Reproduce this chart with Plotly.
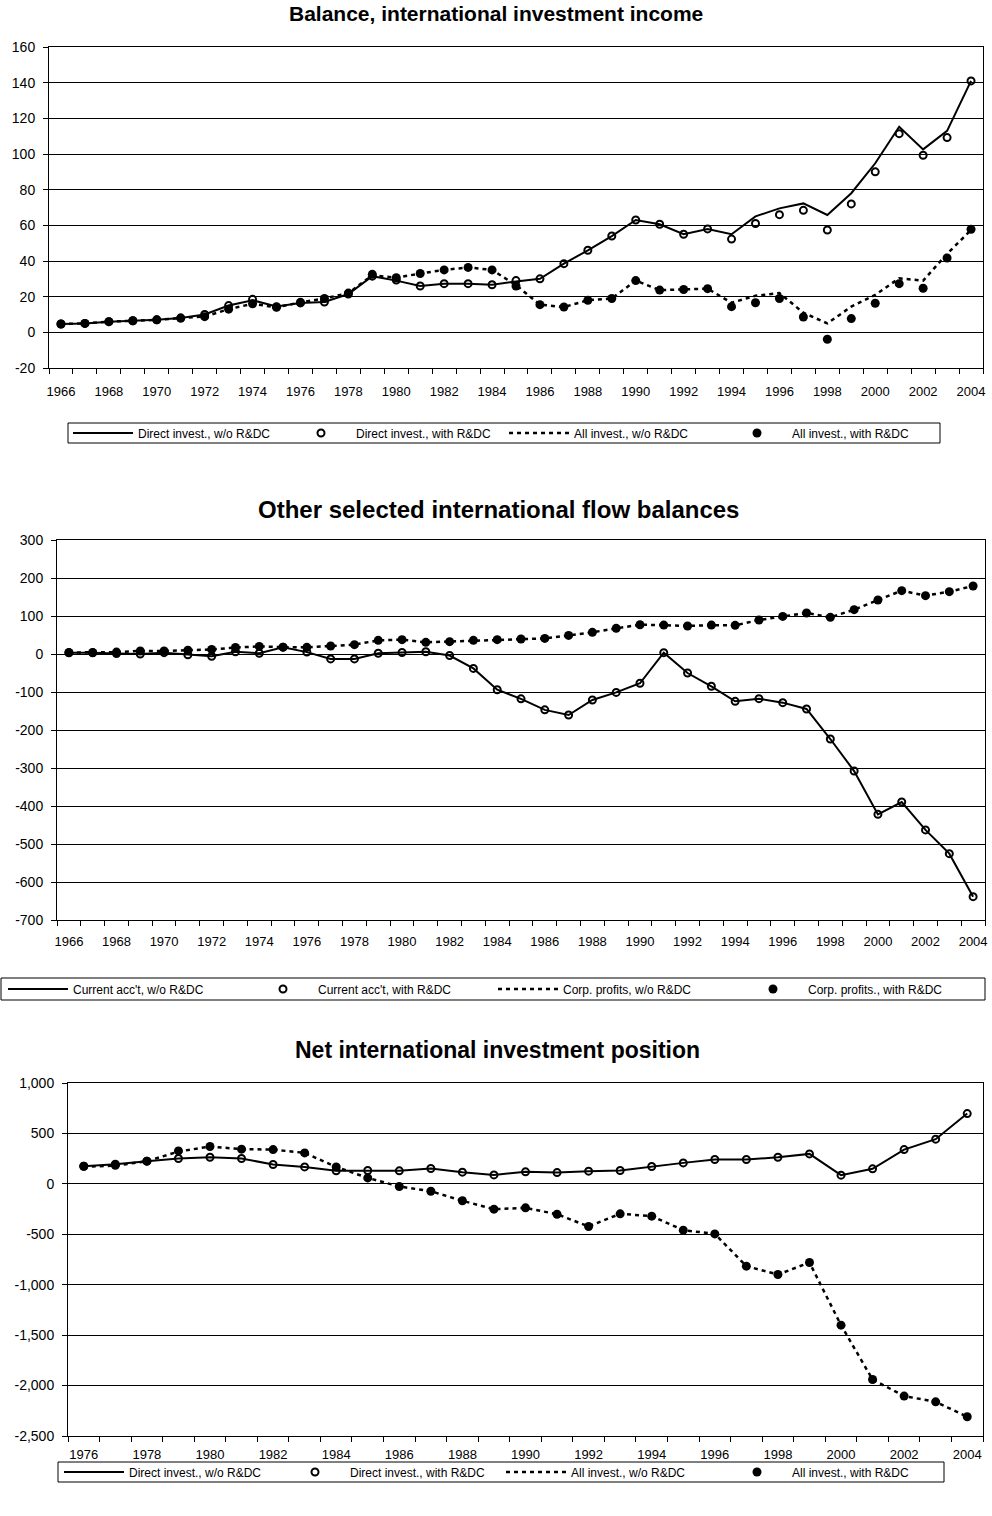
import plotly.graph_objects as go

# ---------------- data ----------------
years_a = [1966, 1967, 1968, 1969, 1970, 1971, 1972, 1973, 1974, 1975,
           1976, 1977, 1978, 1979, 1980, 1981, 1982, 1983, 1984, 1985,
           1986, 1987, 1988, 1989, 1990, 1991, 1992, 1993, 1994, 1995,
           1996, 1997, 1998, 1999, 2000, 2001, 2002, 2003, 2004]
years_b = [1976, 1977, 1978, 1979, 1980, 1981, 1982, 1983, 1984, 1985,
           1986, 1987, 1988, 1989, 1990, 1991, 1992, 1993, 1994, 1995,
           1996, 1997, 1998, 1999, 2000, 2001, 2002, 2003, 2004]
xlabels_a = [1966, 1968, 1970, 1972, 1974, 1976, 1978, 1980, 1982, 1984,
             1986, 1988, 1990, 1992, 1994, 1996, 1998, 2000, 2002, 2004]
xlabels_b = [1976, 1978, 1980, 1982, 1984, 1986, 1988, 1990, 1992, 1994,
             1996, 1998, 2000, 2002, 2004]

ytick1 = [-20, 0, 20, 40, 60, 80, 100, 120, 140, 160]
ytext1 = ["-20", "0", "20", "40", "60", "80", "100", "120", "140", "160"]
ytick2 = [-700, -600, -500, -400, -300, -200, -100, 0, 100, 200, 300]
ytext2 = ["-700", "-600", "-500", "-400", "-300", "-200", "-100", "0", "100", "200", "300"]
ytick3 = [-2500, -2000, -1500, -1000, -500, 0, 500, 1000]
ytext3 = ["-2,500", "-2,000", "-1,500", "-1,000", "-500", "0", "500", "1,000"]

# Panel 1: Balance, international investment income
inc_direct_wo = [4.7, 5, 6, 6.5, 7, 8, 10, 15, 18, 14.5,
                 16.5, 17, 21.5, 31.5, 29, 26, 27.3, 27.3, 26.7, 28.5,
                 30, 38.5, 46, 54, 63, 60.6, 55, 58, 55, 65,
                 69.5, 72.3, 65.8, 78, 94.8, 115.3, 102.6, 113, 141]
inc_direct_with = [4.7, 5, 6, 6.5, 7, 8, 10, 15, 18.5, 14.4,
                   16.5, 17, 21.5, 31.5, 29.3, 26, 27.3, 27.3, 26.7, 29,
                   30, 38.5, 46, 54, 63, 60.6, 55, 58, 52.3, 61,
                   66, 68.4, 57.4, 72, 90, 111.4, 99.3, 109.2, 141]
inc_all_wo = [4.7, 5, 6, 6.5, 7, 8, 8.8, 13, 16, 14,
              16.8, 19, 22, 32, 30.6, 33, 35, 36.4, 35, 26.5,
              15.5, 14.2, 18, 19, 29, 23.7, 24, 24.5, 16.6, 20.5,
              22, 11, 5, 14.4, 21, 30.3, 29, 44, 57.4]
inc_all_with = [4.7, 5, 6, 6.5, 7, 8, 8.8, 13, 16, 14,
                16.8, 19, 22, 32.5, 30.6, 33, 35, 36.4, 35, 26,
                15.5, 14.2, 18, 19, 29, 23.7, 24, 24.5, 14.4, 16.6,
                19, 8.6, -3.9, 7.7, 16.3, 27.3, 24.7, 41.7, 57.8]

# Panel 2: Other selected international flow balances
ca_wo = [3, 3, 1, 0, 3.5, -2, -6, 6, 2, 18,
         5, -13, -13, 2, 4, 6, -4, -38, -94, -118,
         -147, -160.5, -121, -101, -77, 3.5, -50, -85, -124.5, -117.5,
         -128, -144.7, -223.7, -308, -422, -389.5, -463, -525.4, -638.6]
ca_with = [3, 3, 1, 0, 3.5, -2, -6, 6, 2, 18,
           5, -13, -13, 2, 4, 6, -4, -38, -94, -118,
           -147, -160.5, -121, -101, -77, 3.5, -50, -85, -124.5, -117.5,
           -128, -144.7, -223.7, -308, -422, -389.5, -463, -525.4, -638.6]
cp_wo = [4, 4, 5, 8, 8, 10, 12, 17, 20, 18,
         17.5, 21, 24.5, 36, 37.7, 30.7, 32.5, 36, 37.7, 39.5,
         41, 49, 57, 67.5, 77, 76, 73.7, 76, 75.4, 89.5,
         99, 108, 96.5, 116.7, 142, 166.7, 153.5, 164, 179]
cp_with = [4, 4, 5, 8, 8, 10, 12, 17, 20, 18,
           17.5, 21, 24.5, 36, 37.7, 30.7, 32.5, 36, 37.7, 39.5,
           41, 49, 57, 67.5, 77, 76, 73.7, 76, 75.4, 89.5,
           99, 108, 96.5, 116.7, 142, 166.7, 153.5, 164, 179]

# Panel 3: Net international investment position
pos_direct_wo = [175, 195, 225, 251, 264, 251, 192, 168, 129, 132,
                 129, 152, 116, 89, 119, 112, 126, 132, 172, 208,
                 241, 241, 264, 297, 86, 149, 340, 443, 697]
pos_direct_with = [175, 195, 225, 251, 264, 251, 192, 168, 129, 132,
                   129, 152, 116, 89, 119, 112, 126, 132, 172, 208,
                   241, 241, 264, 297, 86, 149, 340, 443, 697]
pos_all_wo = [170, 180, 225, 320, 370, 344, 340, 307, 168, 59,
              -26, -73, -168, -251, -238, -301, -423, -297, -320, -459,
              -496, -816, -899, -780, -1401, -1940, -2104, -2161, -2309]
pos_all_with = [175, 185, 225, 327, 370, 344, 340, 307, 168, 59,
                -26, -73, -168, -251, -238, -301, -423, -297, -320, -459,
                -496, -816, -899, -780, -1401, -1940, -2104, -2161, -2309]

legend_a = ["Direct invest., w/o R&DC", "Direct invest., with R&DC",
            "All invest., w/o R&DC", "All invest., with R&DC"]
legend_b = ["Current acc't, w/o R&DC", "Current acc't, with R&DC",
            "Corp. profits, w/o R&DC", "Corp. profits., with R&DC"]
titles = ["Balance, international investment income",
          "Other selected international flow balances",
          "Net international investment position"]

# ---------------- figure ----------------
W, H = 992, 1516
FONT = "Arial, Liberation Sans, sans-serif"
fig = go.Figure()


def add_group(x, ys, names, xa, ya, leg):
    y1, y2, y3, y4 = ys
    fig.add_trace(go.Scatter(x=x, y=y1, name=names[0], mode="lines",
                             line=dict(color="black", width=2),
                             xaxis=xa, yaxis=ya, legend=leg))
    fig.add_trace(go.Scatter(x=x, y=y2, name=names[1], mode="markers",
                             marker=dict(symbol="circle-open", size=7, color="black",
                                         line=dict(width=2, color="black")),
                             xaxis=xa, yaxis=ya, legend=leg))
    fig.add_trace(go.Scatter(x=x, y=y3, name=names[2], mode="lines",
                             line=dict(color="black", width=2.5, dash="4px,4px"),
                             xaxis=xa, yaxis=ya, legend=leg))
    fig.add_trace(go.Scatter(x=x, y=y4, name=names[3], mode="markers",
                             marker=dict(symbol="circle", size=9, color="black"),
                             xaxis=xa, yaxis=ya, legend=leg))


add_group(years_a, [inc_direct_wo, inc_direct_with, inc_all_wo, inc_all_with],
          legend_a, "x", "y", "legend")
add_group(years_a, [ca_wo, ca_with, cp_wo, cp_with], legend_b, "x2", "y2", "legend2")
add_group(years_b, [pos_direct_wo, pos_direct_with, pos_all_wo, pos_all_with],
          legend_a, "x3", "y3", "legend3")


def px_x(a, b):
    return [a / W, b / W]


def px_y(top, bottom):
    return [1 - bottom / H, 1 - top / H]


def xax(dom, anchor, first, last, labels, gap):
    return dict(domain=dom, anchor=anchor, range=[first - 0.5, last + 0.5],
                tickmode="array", tickvals=labels, ticktext=[str(v) for v in labels],
                ticks="outside", ticklen=gap, tickcolor="rgba(0,0,0,0)",
                showgrid=False, zeroline=False, showline=True, linecolor="black",
                linewidth=1, mirror=True, tickfont=dict(size=13, color="black"),
                minor=dict(ticks="outside", tick0=first - 0.5, dtick=1, ticklen=5,
                           tickcolor="black", tickwidth=1, showgrid=False))


def yax(dom, anchor, rng, vals, texts):
    return dict(domain=dom, anchor=anchor, range=rng, tickmode="array",
                tickvals=vals, ticktext=texts,
                showgrid=True, gridcolor="black", gridwidth=1,
                zeroline=False, ticks="outside", ticklen=5, tickcolor="black",
                showline=True, linecolor="black", linewidth=1, mirror=True,
                tickfont=dict(size=14, color="black"), ticklabelstandoff=5)


fig.update_layout(
    width=W, height=H,
    margin=dict(l=0, r=0, t=0, b=0, pad=0, autoexpand=False),
    paper_bgcolor="white", plot_bgcolor="white",
    font=dict(family=FONT, color="black", size=12),
    showlegend=True,
    xaxis=xax(px_x(49, 983), "y", 1966, 2004, xlabels_a, 11),
    yaxis=yax(px_y(47, 368), "x", [-20, 160], ytick1, ytext1),
    xaxis2=xax(px_x(57, 985), "y2", 1966, 2004, xlabels_a, 9),
    yaxis2=yax(px_y(540, 920), "x2", [-700, 300], ytick2, ytext2),
    xaxis3=xax(px_x(68, 983), "y3", 1976, 2004, xlabels_b, 6),
    yaxis3=yax(px_y(1083, 1436), "x3", [-2500, 1000], ytick3, ytext3),
)

leg_common = dict(orientation="h", xanchor="center", yanchor="middle",
                  borderwidth=0, bgcolor="rgba(0,0,0,0)",
                  font=dict(size=12, family=FONT, color="black"),
                  itemwidth=60, entrywidthmode="pixels", traceorder="normal")
# legend boxes (left, top, right, bottom) in pixels
boxes = [(68, 423, 940, 443), (1, 978, 985, 1000), (58, 1462, 944, 1482)]
fig.update_layout(
    legend=dict(leg_common, x=(boxes[0][0] + boxes[0][2]) / 2 / W,
                y=1 - (boxes[0][1] + boxes[0][3]) / 2 / H, entrywidth=143),
    legend2=dict(leg_common, x=(boxes[1][0] + boxes[1][2]) / 2 / W,
                 y=1 - (boxes[1][1] + boxes[1][3]) / 2 / H, entrywidth=170),
    legend3=dict(leg_common, x=(boxes[2][0] + boxes[2][2]) / 2 / W,
                 y=1 - (boxes[2][1] + boxes[2][3]) / 2 / H, entrywidth=146),
)
for (l, t, r, b) in boxes:
    fig.add_shape(type="rect", xref="paper", yref="paper",
                  x0=l / W, x1=r / W, y0=1 - b / H, y1=1 - t / H,
                  line=dict(color="black", width=1), fillcolor="rgba(0,0,0,0)",
                  layer="below")

title_pos = [(496, 14, 21), (498, 509, 24), (497, 1050, 23)]
for t, (cx, cy, fs) in zip(titles, title_pos):
    fig.add_annotation(text="<b>" + t + "</b>", x=cx / W, y=1 - cy / H,
                       xref="paper", yref="paper", showarrow=False,
                       xanchor="center", yanchor="middle",
                       font=dict(size=fs, family=FONT, color="black"))

fig.write_html("out.html", config={"displayModeBar": False},
               post_script="document.body.style.margin='0px';"
                           "document.documentElement.style.overflow='hidden';")
